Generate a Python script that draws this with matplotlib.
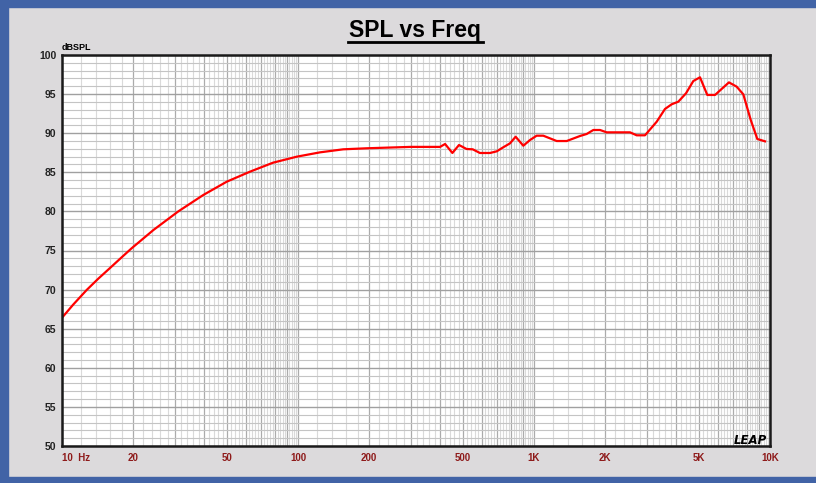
import numpy as np
import matplotlib
matplotlib.use("Agg")
import matplotlib.pyplot as plt
from matplotlib.patches import Rectangle
from matplotlib.ticker import NullFormatter

# response
freq = [10, 11.17, 12.72, 14.25, 15.96, 17.78, 19.72, 24.4, 31.1, 39.7, 49.9, 62.6,
        78.4, 98.9, 123.9, 155.5, 195, 300,
        400, 420, 451, 481, 518, 550, 590, 651, 695, 741, 791, 836, 901,
        962, 1026, 1095, 1248, 1376, 1566, 1672, 1784, 1904, 2032, 2552, 2723, 2953,
        3311, 3590, 3833, 4088, 4406, 4732, 5051, 5424, 5848, 6699, 7223, 7707, 8285,
        8835, 9527]
spl = [66.4, 68.1, 69.95, 71.4, 72.75, 74.05, 75.28, 77.62, 80.0, 82.1, 83.8, 85.08,
       86.23, 87.0, 87.55, 87.94, 88.07, 88.25,
       88.25, 88.62, 87.47, 88.49, 87.98, 87.94, 87.47, 87.47, 87.68,
       88.2, 88.7, 89.55, 88.4, 89.13, 89.68, 89.68, 89.0, 89.0, 89.64, 89.9, 90.41,
       90.41, 90.11, 90.11, 89.73, 89.73, 91.47, 93.1, 93.7, 94.03, 95.1, 96.67, 97.15,
       94.89, 94.89, 96.5, 95.95, 94.97, 91.7, 89.26, 88.96]

x_labels = {10: "10  Hz", 20: "20", 50: "50", 100: "100", 200: "200", 500: "500",
            1000: "1K", 2000: "2K", 5000: "5K", 10000: "10K"}
y_ticks = list(range(50, 101, 5))

W, H = 816, 483
fig = plt.figure(figsize=(W / 100, H / 100), dpi=100)
fig.patch.set_facecolor("#dcdadc")

blue = "#4163a6"
fig.patches.append(Rectangle((0, 1 - 7 / H), 1, 7 / H, transform=fig.transFigure, color=blue, zorder=0))
fig.patches.append(Rectangle((0, 0), 8 / W, 1, transform=fig.transFigure, color=blue, zorder=0))
fig.patches.append(Rectangle((0, 0), 1, 6 / H, transform=fig.transFigure, color=blue, zorder=0))

ax = fig.add_axes([62 / W, (H - 446) / H, (770 - 62) / W, (446 - 55) / H])
ax.set_facecolor("white")
ax.set_xscale("log")
ax.set_xlim(10, 10000)
ax.set_ylim(50, 100)

# grid lines like LEAP: integer multiples darker, 0.2 steps lighter
major_x = [k * d for d in (10, 100, 1000) for k in range(1, 10)] + [10000]
minor_x = [d * (k + j / 5) for d in (10, 100, 1000) for k in range(1, 10) for j in range(1, 5)]
ax.set_xticks(major_x)
ax.set_xticklabels([x_labels.get(v, "") for v in major_x])
ax.set_xticks(minor_x, minor=True)
ax.xaxis.set_minor_formatter(NullFormatter())
ax.set_yticks(y_ticks)
ax.set_yticks(range(50, 101), minor=True)
ax.yaxis.set_minor_formatter(NullFormatter())

ax.grid(True, axis="x", which="major", color="#ababab", lw=0.9)
ax.grid(True, axis="x", which="minor", color="#dadada", lw=0.8)
ax.grid(True, axis="y", which="major", color="#a0a0a0", lw=1.0)
ax.grid(True, axis="y", which="minor", color="#c4c4c4", lw=0.8)
ax.set_axisbelow(True)
ax.tick_params(which="both", length=0)
ax.tick_params(axis="x", colors="#8e1a1a", labelsize=7, pad=5)
ax.tick_params(axis="y", labelcolor="#222222", labelsize=7.5, pad=4)
for lab in ax.get_xticklabels() + ax.get_yticklabels():
    lab.set_fontweight("bold")
    lab.set_family("Liberation Sans")
ax.get_xticklabels()[0].set_ha("left")

for s in ax.spines.values():
    s.set_color("#1a1a1a")
    s.set_linewidth(1.8)

ax.plot(freq, spl, color="#ff0000", lw=1.6)

fig.text(415 / W, 1 - 30 / H, "SPL vs Freq", ha="center", va="center", fontsize=16.5,
         fontweight="bold", family="Liberation Sans")
fig.add_artist(plt.Line2D([348 / W, 483 / W], [1 - 41.5 / H, 1 - 41.5 / H], color="black", lw=2))
fig.text(62 / W, 1 - 47 / H, "dBSPL", ha="left", va="center", fontsize=6.5,
         fontweight="bold", family="Liberation Sans")
fig.text(767 / W, 1 - 441 / H, "LEAP", ha="right", va="center", fontsize=8.5,
         fontweight="bold", fontstyle="italic", family="DejaVu Sans")

fig.savefig("out.png", dpi=100, facecolor=fig.get_facecolor())
